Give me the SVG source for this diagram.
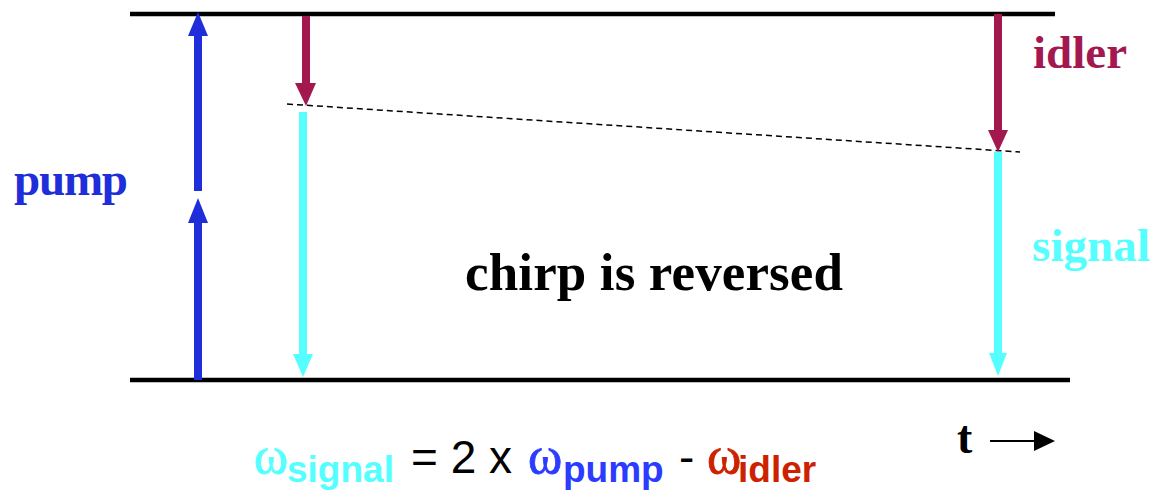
<svg xmlns="http://www.w3.org/2000/svg" width="1155" height="493" viewBox="0 0 1155 493">
<style>
.lvl{stroke:#000;stroke-width:4.5}
.lbl{font-family:"Liberation Serif",serif;font-weight:bold}
.f{font-family:"Liberation Sans",Arial,sans-serif}
.sub{font-family:"Liberation Sans",Arial,sans-serif;font-weight:bold;font-size:37px}
.w{font-family:"Liberation Serif",serif;font-size:52px}
</style>
<rect width="1155" height="493" fill="#fff"/>
<g id="levels">
<line class="lvl" x1="130" y1="14" x2="1055" y2="14"/>
<line class="lvl" x1="130" y1="380" x2="1070" y2="380"/>
<line x1="287" y1="104" x2="1020" y2="152" stroke="#000" stroke-width="1.5" stroke-dasharray="6,4"/>
</g>
<g id="connectors">
<g id="pump-arrows" fill="#1f2ed8">
<rect x="194" y="222" width="8" height="158"/>
<polygon points="188,223 198,198 208,223"/>
<rect x="194" y="34" width="8" height="157"/>
<polygon points="188,36 198,12 208,36"/>
</g>
<g id="idler-arrows" fill="#a3194f">
<rect x="302" y="16" width="8" height="68"/>
<polygon points="295,83 306,106 316,83"/>
<rect x="994" y="14" width="8" height="117"/>
<polygon points="988,130 998,152 1008,130"/>
</g>
<g id="signal-arrows" fill="#55ffff">
<rect x="299" y="112" width="8" height="244"/>
<polygon points="293,354 303,377 313,354"/>
<rect x="994" y="152" width="8" height="202"/>
<polygon points="989,353 998,376 1007,353"/>
</g>
<g id="time-arrow">
<line x1="990" y1="441" x2="1036" y2="441" stroke="#000" stroke-width="2"/>
<polygon points="1034,431 1055,441 1034,451" fill="#000"/>
</g>
</g>
<g id="labels">
<text class="lbl" x="14" y="195" font-size="47" textLength="114" fill="#1f2ed8">pump</text>
<text class="lbl" x="1033" y="68" font-size="47" textLength="94" fill="#a3194f">idler</text>
<text class="lbl" x="1032" y="261" font-size="47" textLength="118" fill="#55ffff">signal</text>
<text class="lbl" x="465" y="290" font-size="53" textLength="378" fill="#000">chirp is reversed</text>
<text class="lbl" x="957" y="453" font-size="46" fill="#000">t</text>
</g>
<g id="formula">
<text class="w" x="254" y="473" fill="#55ffff" stroke="#55ffff" stroke-width="0.8">ω</text>
<text class="sub" x="287" y="482" fill="#55ffff">signal</text>
<text class="f" x="411" y="473" font-size="46" fill="#000">= 2 x</text>
<text class="w" x="528" y="473" fill="#2b3cff" stroke="#2b3cff" stroke-width="0.8">ω</text>
<text class="sub" x="563" y="482" fill="#2b3cff">pump</text>
<text class="f" x="679" y="473" font-size="46" fill="#000">-</text>
<text class="w" x="707" y="473" fill="#cc2200" stroke="#cc2200" stroke-width="0.8">ω</text>
<text class="sub" x="738" y="482" fill="#cc2200">idler</text>
</g>
</svg>
